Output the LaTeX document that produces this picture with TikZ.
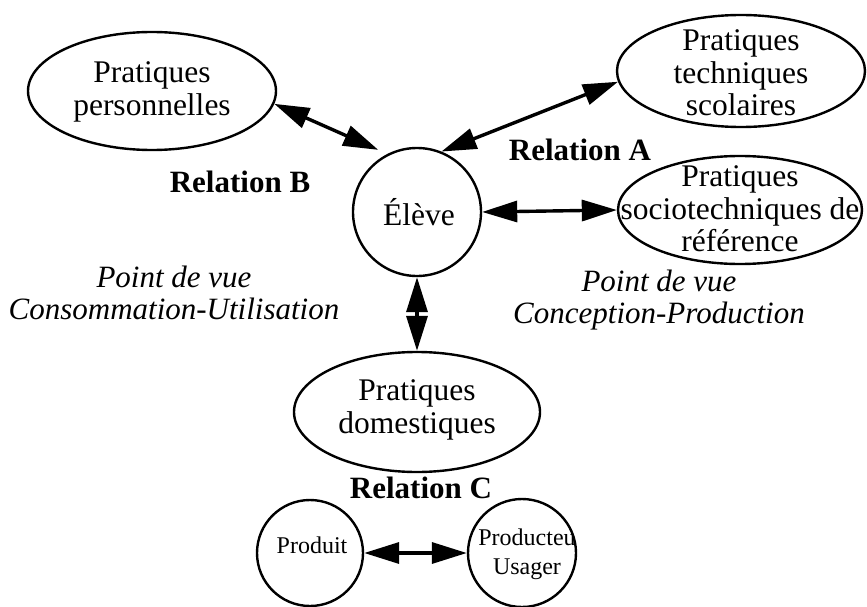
\documentclass[tikz,border=0pt]{standalone}
\usepackage{fontspec}
\setmainfont{Liberation Serif}
\usetikzlibrary{shapes.geometric,arrows.meta}
\begin{document}
\begin{tikzpicture}[x=1pt,y=-1pt,
  shapebox/.style={draw, line width=2.4pt, inner sep=0pt},
  ovalbox/.style={shapebox, ellipse},
  roundbox/.style={shapebox, circle},
  bigtext/.style={align=center, font=\fontsize{31.5}{32.5}\selectfont, inner sep=0pt},
  smalltext/.style={align=center, font=\fontsize{24}{29}\selectfont, inner sep=0pt},
  reltext/.style={font=\fontsize{31}{33}\selectfont\bfseries, inner sep=0pt},
  viewtext/.style={align=center, font=\fontsize{31}{32}\selectfont\itshape, inner sep=0pt},
  biarrow/.style={line width=3.4pt, {Triangle[length=35pt,width=21pt]}-{Triangle[length=35pt,width=21pt]}}]
\useasboundingbox (0,0) rectangle (867,607);

% shapes
\node[ovalbox, minimum width=248pt, minimum height=118pt] (pers) at (152,91) {};
\node[ovalbox, minimum width=248pt, minimum height=112pt] (tech) at (741,71) {};
\node[ovalbox, minimum width=244pt, minimum height=108pt] (socio) at (740,210) {};
\node[roundbox, minimum size=128pt] (eleve) at (417,212) {};
\node[ovalbox, minimum width=246pt, minimum height=120pt] (dom) at (417,412) {};
\node[roundbox, minimum size=106pt] (produit) at (310,553) {};
\node[roundbox, minimum size=108pt] (prod) at (522,553) {};

% texts in shapes
\node[bigtext] (perst) at (152,92) {Pratiques\\personnelles};
\node[bigtext] (techt) at (741,73) {Pratiques\\techniques\\scolaires};
\node[bigtext] (sociot) at (740,209) {Pratiques\\sociotechniques de\\référence};
\node[bigtext] (elevet) at (419,212) {Élève};
\node[bigtext] (domt) at (417,410) {Pratiques\\domestiques};
\node[smalltext] (produitt) at (312,545) {Produit};
\node[smalltext] (prodt) at (527,554) {Producteu\\Usager};

% labels
\node[reltext] (relA) at (580,150) {Relation A};
\node[reltext] (relB) at (240,182) {Relation B};
\node[reltext] (relC) at (421,488) {Relation C};
\node[viewtext] (vueL) at (174,293) {Point de vue\\Consommation-Utilisation};
\node[viewtext] (vueR) at (659,300) {Point de vue\\Conception-Production};

% connectors
\draw[biarrow, shorten >=10pt] (pers.-6) -- (eleve.117);
\draw[biarrow] (eleve.68) -- (tech.185.7);
\draw[biarrow] (eleve.east) -- (socio.west);
\draw[biarrow] (eleve.south) -- (dom.north);
\draw[biarrow] (produit.east) -- (prod.west);
\end{tikzpicture}
\end{document}
